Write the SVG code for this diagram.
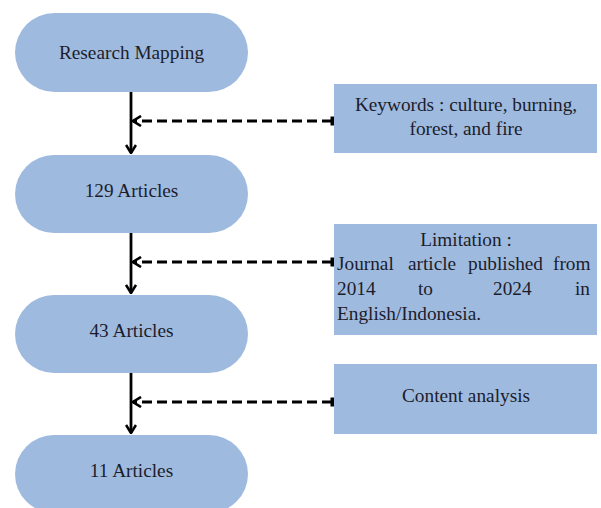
<svg xmlns="http://www.w3.org/2000/svg" width="601" height="508" viewBox="0 0 601 508">
<defs>
<style>
.pill{fill:#9fbadf;}
.box{fill:#9fbadf;}
text{font-family:"Liberation Serif","Times New Roman","DejaVu Serif",serif;font-size:19.3px;fill:#1c1d2b;}
.c{text-anchor:middle;}
.flow{stroke:#000;stroke-width:2.8;fill:none;}
.dash{stroke:#000;stroke-width:2.8;fill:none;stroke-dasharray:10 5;}
</style>
<marker id="ah" viewBox="0 0 12 12" refX="11" refY="6" markerWidth="12" markerHeight="12" markerUnits="userSpaceOnUse" orient="auto">
<path d="M3,1 L11,6 L3,11" fill="none" stroke="#000" stroke-width="2.6"/>
</marker>
<marker id="tee" viewBox="0 0 4 12" refX="2" refY="6" markerWidth="4" markerHeight="12" markerUnits="userSpaceOnUse" orient="auto">
<rect x="0" y="1.5" width="3.5" height="9" fill="#000"/>
</marker>
</defs>
<rect width="601" height="508" fill="#fff"/>
<g id="connectors">
<line class="flow" x1="131" y1="92" x2="131" y2="153" marker-end="url(#ah)"/>
<line class="flow" x1="131" y1="232" x2="131" y2="293" marker-end="url(#ah)"/>
<line class="flow" x1="131" y1="373" x2="131" y2="433" marker-end="url(#ah)"/>
<line class="dash" x1="332" y1="121" x2="133" y2="121" marker-start="url(#tee)" marker-end="url(#ah)"/>
<line class="dash" x1="332" y1="262" x2="133" y2="262" marker-start="url(#tee)" marker-end="url(#ah)"/>
<line class="dash" x1="332" y1="402" x2="133" y2="402" marker-start="url(#tee)" marker-end="url(#ah)"/>
</g>
<g id="research-mapping">
<rect class="pill" x="15" y="13" width="233" height="79" rx="39.5"/>
<text class="c" x="131.5" y="58.5" font-family="Liberation Serif, serif">Research Mapping</text>
</g>
<g id="articles-129">
<rect class="pill" x="15" y="155" width="233" height="78" rx="39"/>
<text class="c" x="131.5" y="197">129 Articles</text>
</g>
<g id="articles-43">
<rect class="pill" x="15" y="295" width="233" height="78" rx="39"/>
<text class="c" x="131.5" y="337">43 Articles</text>
</g>
<g id="articles-11">
<rect class="pill" x="15" y="435" width="233" height="78" rx="39"/>
<text class="c" x="131.5" y="477">11 Articles</text>
</g>
<g id="keywords">
<rect class="box" x="334" y="84" width="263" height="69"/>
<text class="c" x="466" y="111">Keywords : culture, burning,</text>
<text class="c" x="466" y="135">forest, and fire</text>
</g>
<g id="limitation">
<rect class="box" x="334" y="224" width="263" height="111"/>
<text class="c" x="466" y="246">Limitation :</text>
<text y="270"><tspan x="337">Journal</tspan><tspan x="408">article</tspan><tspan x="468">published</tspan><tspan x="553">from</tspan></text>
<text y="295"><tspan x="337">2014</tspan><tspan x="418">to</tspan><tspan x="493">2024</tspan><tspan x="575">in</tspan></text>
<text x="337" y="320">English/Indonesia.</text>
</g>
<g id="content-analysis">
<rect class="box" x="334" y="364" width="263" height="70"/>
<text class="c" x="466" y="402">Content analysis</text>
</g>
</svg>
